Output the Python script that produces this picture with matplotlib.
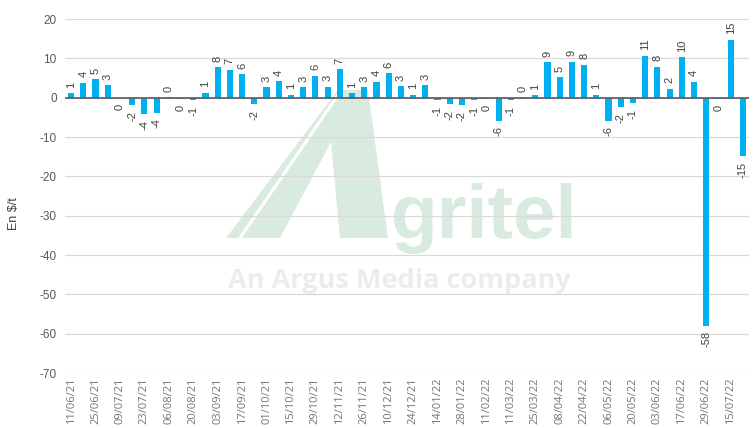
import matplotlib

matplotlib.use("Agg")
import matplotlib.pyplot as plt
from matplotlib.patches import Polygon
import numpy as np

# weekly price change, $/t
values = [
    1.1, 3.8, 4.7, 3.2, -0.1, -1.9, -4.2, -3.9, 0.1, -0.4,
    -0.7, 1.2, 7.7, 7.1, 6.0, -1.6, 2.6, 4.2, 0.8, 2.6,
    5.6, 2.8, 7.2, 1.1, 2.6, 4.1, 6.2, 2.9, 0.8, 3.2,
    -0.7, -1.6, -1.9, -0.7, -0.4, -5.9, -0.6, 0.1, 0.6, 9.0,
    5.2, 9.1, 8.3, 0.8, -5.9, -2.4, -1.4, 10.6, 7.9, 2.3,
    10.3, 4.1, -58.0, -0.3, 14.7, -14.8,
]
tick_labels = [
    "11/06/21", "25/06/21", "09/07/21", "23/07/21", "06/08/21", "20/08/21",
    "03/09/21", "17/09/21", "01/10/21", "15/10/21", "29/10/21", "12/11/21",
    "26/11/21", "10/12/21", "24/12/21", "14/01/22", "28/01/22", "11/02/22",
    "11/03/22", "25/03/22", "08/04/22", "22/04/22", "06/05/22", "20/05/22",
    "03/06/22", "17/06/22", "29/06/22", "15/07/22",
]
y_ticks = [20, 10, 0, -10, -20, -30, -40, -50, -60, -70]

W, H = 754, 428
fig = plt.figure(figsize=(W / 100, H / 100), dpi=100)
ax = fig.add_axes([65 / W, 1 - 373 / H, 684 / W, 354 / H])
ax.set_facecolor("none")


def px(x, y):
    return (x / W, 1 - y / H)


# watermark behind the plot
green = "#d9ebdf"
a_shape = [px(226, 238), px(338, 90), px(368, 90), px(388, 238),
           px(340, 238), px(331, 142), px(280, 238)]
fig.patches.append(Polygon(a_shape, closed=True, transform=fig.transFigure,
                           facecolor=green, edgecolor="none", zorder=-2))
fig.lines.append(plt.Line2D([px(240, 238)[0], px(340, 92)[0]],
                            [px(240, 238)[1], px(340, 92)[1]],
                            transform=fig.transFigure, color="white", lw=2.2, zorder=-1))
fig.text(*px(391, 238), "gritel", transform=fig.transFigure, fontsize=55,
         fontweight="bold", family="Liberation Sans", color=green,
         ha="left", va="baseline", zorder=-1)
fig.text(*px(228, 288), "An Argus Media company", transform=fig.transFigure,
         fontsize=19.5, fontweight="bold", family="Open Sans", color="#ececec",
         ha="left", va="baseline", zorder=-1)

x = np.arange(len(values))
ax.bar(x, values, width=0.5, color="#00b0f0", zorder=2)

for xi, v in zip(x, values):
    label = str(int(round(v)))
    if v >= 0:
        ax.annotate(label, (xi, v), xytext=(0, 4), textcoords="offset points",
                    rotation=90, ha="center", va="bottom", fontsize=8,
                    family="Liberation Sans", color="#404040")
    else:
        ax.annotate(label, (xi, v), xytext=(0, -4), textcoords="offset points",
                    rotation=90, ha="center", va="top", fontsize=8,
                    family="Liberation Sans", color="#404040")

ax.axhline(0, color="#595959", lw=1.2, zorder=3)
ax.set_ylim(-70, 20)
ax.set_xlim(-0.5, len(values) - 0.5)
ax.set_yticks(y_ticks)
ax.set_yticklabels([str(t) for t in y_ticks], family="Liberation Sans",
                   fontsize=8.5, color="#595959")
ax.grid(axis="y", color="#d9d9d9", lw=0.9, zorder=0)
ax.set_axisbelow(True)

ax.set_xticks(x[::2])
ax.set_xticklabels(tick_labels, rotation=90, family="Open Sans", fontsize=8,
                   color="#737373", va="top")
ax.tick_params(axis="both", length=0)
ax.tick_params(axis="x", pad=3)
ax.tick_params(axis="y", pad=6)

for s in ax.spines.values():
    s.set_visible(False)

ax.set_ylabel("En $/t", family="Liberation Sans", fontsize=9, color="#404040")
ax.yaxis.set_label_coords(-0.066, 0.45)

fig.savefig("out.png", dpi=100)
